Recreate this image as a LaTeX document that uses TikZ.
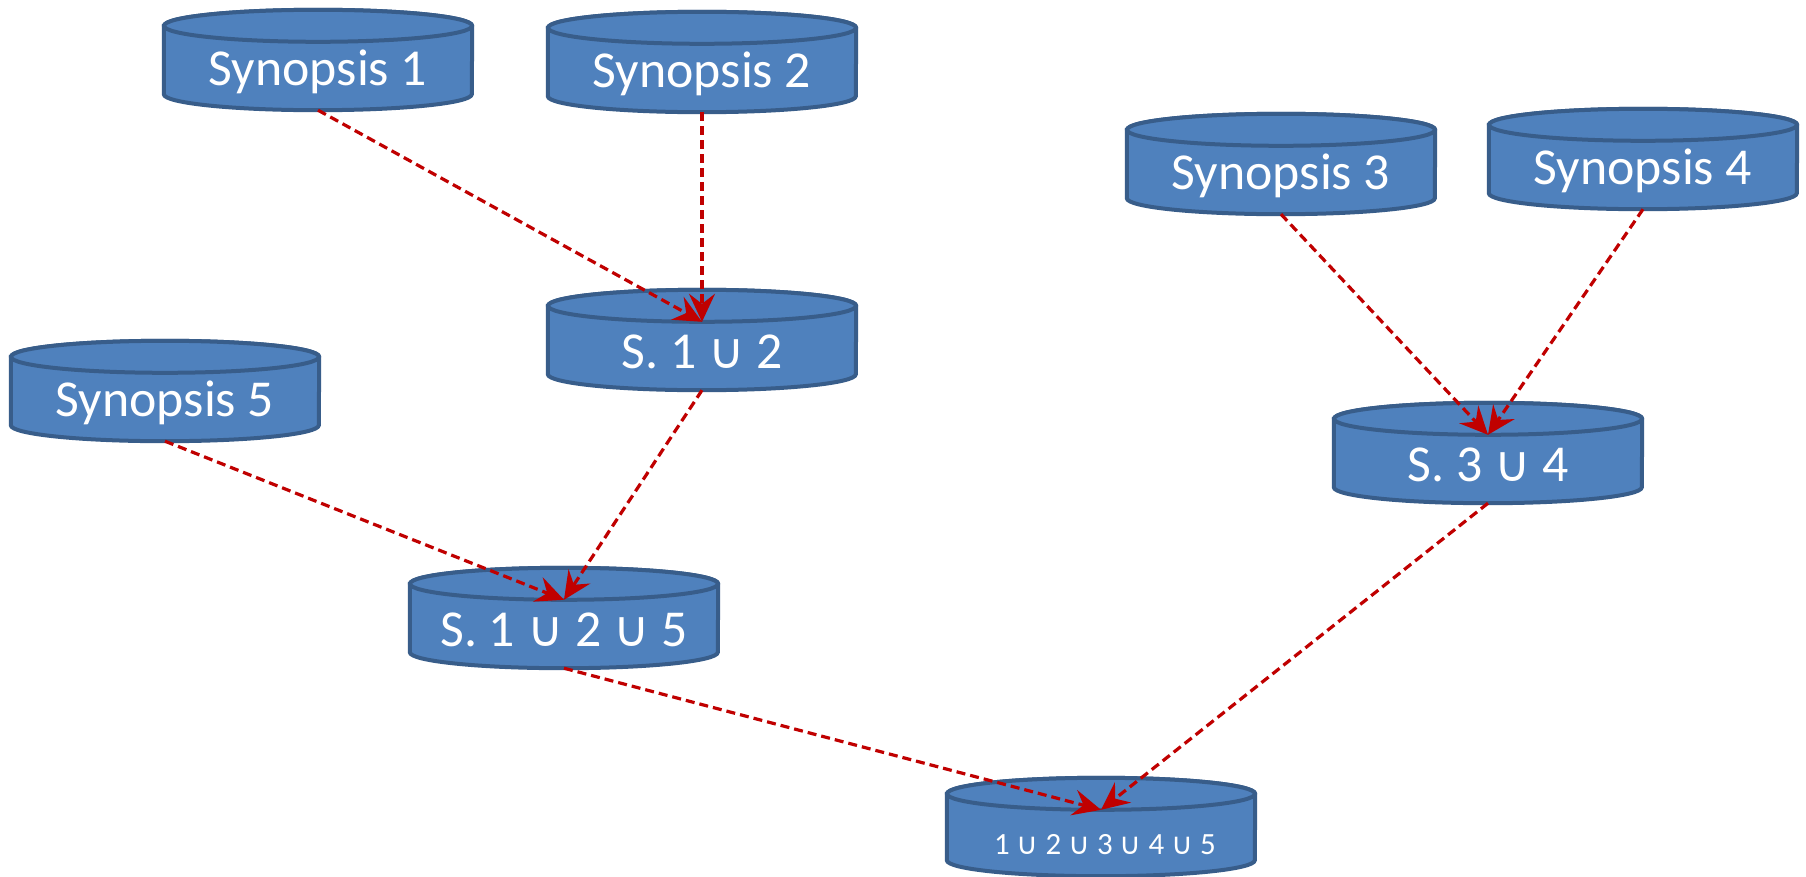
\documentclass[tikz,border=0pt]{standalone}
\usepackage{fontspec}
\setmainfont{Carlito}
\newfontfamily\dejavu{DejaVu Sans}
\usetikzlibrary{arrows.meta}
\definecolor{cylfill}{HTML}{4F81BD}
\definecolor{cylline}{HTML}{385D8A}
\definecolor{arrred}{HTML}{C00000}
\newcommand\myunionbig{{\dejavu\fontsize{50}{56}\selectfont ∪}}
\newcommand\myunionsmall{{\dejavu\fontsize{30}{34}\selectfont ∪}}
\tikzset{
 cylnode/.style={rectangle, minimum width=308bp, minimum height=100bp, inner sep=0pt},
 cyltext/.style={text=white, font=\fontsize{52}{60}\selectfont, inner sep=0pt},
 smalltext/.style={text=white, font=\fontsize{31}{36}\selectfont, inner sep=0pt},
 conn/.style={draw=arrred, line width=3.2bp, dash pattern=on 9bp off 5bp, -{Stealth[length=28bp,width=26bp,inset=10bp]}},
 cylborder/.style={draw=cylline, line width=4bp, fill=cylfill}
}
\newcommand\drawcyl[1]{%
 \path[cylborder] ([yshift=-16bp]#1.north west) -- ([yshift=16bp]#1.south west)
   arc[start angle=180,end angle=360,x radius=154bp,y radius=16bp]
   -- ([yshift=-16bp]#1.north east)
   arc[start angle=0,end angle=180,x radius=154bp,y radius=16bp] -- cycle;
 \draw[cylborder] ([yshift=-16bp]#1.north) ellipse[x radius=154bp,y radius=16bp];
}
\begin{document}
\begin{tikzpicture}[x=1bp,y=-1bp]
\useasboundingbox[fill=white] (0,0) rectangle (1806,877);
% cylinder frames
\node[cylnode] (s1) at (318,60) {};
\node[cylnode] (s2) at (702,62) {};
\node[cylnode] (s3) at (1281,164) {};
\node[cylnode] (s4) at (1643,159) {};
\node[cylnode] (s5) at (165,391) {};
\node[cylnode] (s12) at (702,340) {};
\node[cylnode] (s34) at (1488,453) {};
\node[cylnode] (s125) at (564,618) {};
\node[cylnode, minimum height=98bp] (fin) at (1101,827) {};
\foreach \n in {s1,s2,s3,s4,s5,s12,s34,s125,fin} {\drawcyl{\n}}
% texts
\node[cyltext] (s1t) at ([yshift=-12bp]s1.center) {Synopsis 1};
\node[cyltext] (s2t) at ([yshift=-12bp]s2.center) {Synopsis 2};
\node[cyltext] (s3t) at ([yshift=-12bp]s3.center) {Synopsis 3};
\node[cyltext] (s4t) at ([yshift=-12bp]s4.center) {Synopsis 4};
\node[cyltext] (s5t) at ([yshift=-12bp]s5.center) {Synopsis 5};
\node[cyltext] (s12t) at ([yshift=-12bp]s12.center) {S. 1 \myunionbig{} 2};
\node[cyltext] (s34t) at ([yshift=-12bp]s34.center) {S. 3 \myunionbig{} 4};
\node[cyltext] (s125t) at ([yshift=-12bp]s125.center) {S. 1 \myunionbig{} 2 \myunionbig{} 5};
\node[smalltext] (fint) at ([xshift=4bp,yshift=-18bp]fin.center) {1 \myunionsmall{} 2 \myunionsmall{} 3 \myunionsmall{} 4 \myunionsmall{} 5};
% connectors
\draw[conn] (s1.south) -- ([yshift=-32bp]s12.north);
\draw[conn] (s2.south) -- ([yshift=-32bp]s12.north);
\draw[conn] (s3.south) -- ([yshift=-32bp]s34.north);
\draw[conn] (s4.south) -- ([yshift=-32bp]s34.north);
\draw[conn] (s5.south) -- ([yshift=-32bp]s125.north);
\draw[conn] (s12.south) -- ([yshift=-32bp]s125.north);
\draw[conn] (s125.south) -- ([yshift=-32bp]fin.north);
\draw[conn] (s34.south) -- ([yshift=-32bp]fin.north);
\end{tikzpicture}
\end{document}
